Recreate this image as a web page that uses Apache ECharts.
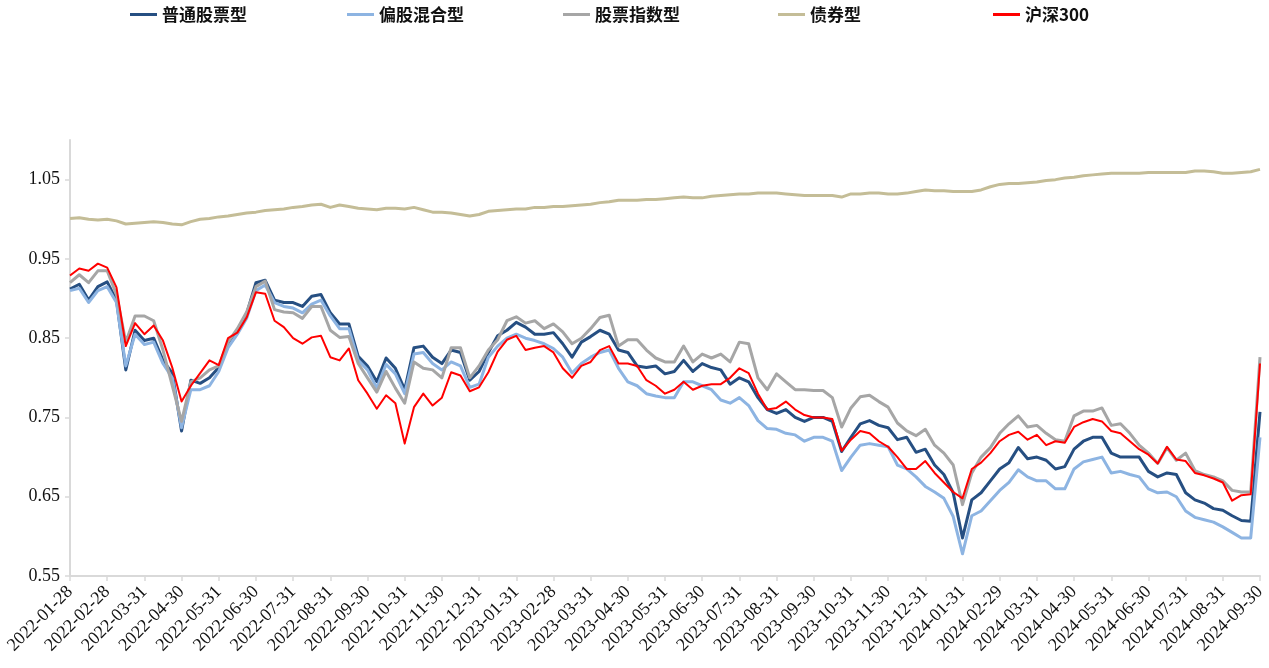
<!DOCTYPE html>
<html>
<head>
<meta charset="utf-8">
<script src="https://cdn.jsdelivr.net/npm/echarts@6/dist/echarts.min.js"></script>
<style>
  html, body { margin: 0; padding: 0; background: #fff; }
  #chart { width: 1269px; height: 668px; }
</style>
</head>
<body>
<div id="chart"></div>
<script>
// Month-end labels on the date axis
const monthEnds = ['2022-01-28','2022-02-28','2022-03-31','2022-04-30','2022-05-31','2022-06-30',
  '2022-07-31','2022-08-31','2022-09-30','2022-10-31','2022-11-30','2022-12-31',
  '2023-01-31','2023-02-28','2023-03-31','2023-04-30','2023-05-31','2023-06-30',
  '2023-07-31','2023-08-31','2023-09-30','2023-10-31','2023-11-30','2023-12-31',
  '2024-01-31','2024-02-29','2024-03-31','2024-04-30','2024-05-31','2024-06-30',
  '2024-07-31','2024-08-31','2024-09-30'];

// Net value indices, sampled four times per month (first value at 2022-01-28)
const stockFund = [
  0.912,0.918,0.898,0.915,0.921,0.898,0.810,0.860,0.847,0.850,0.822,0.806,0.733,0.797,0.793,0.800,
  0.813,0.843,0.860,0.881,0.920,0.923,0.898,0.895,0.895,0.890,0.903,0.905,0.882,0.868,0.868,0.827,
  0.815,0.795,0.825,0.812,0.785,0.838,0.840,0.826,0.818,0.835,0.832,0.797,0.808,0.832,0.853,0.860,
  0.870,0.864,0.855,0.855,0.857,0.843,0.826,0.845,0.852,0.860,0.855,0.835,0.832,0.815,0.813,0.815,
  0.805,0.808,0.822,0.808,0.818,0.813,0.810,0.792,0.800,0.795,0.775,0.760,0.755,0.760,0.750,0.745,
  0.750,0.750,0.745,0.707,0.725,0.742,0.746,0.740,0.737,0.722,0.725,0.706,0.710,0.690,0.678,0.655,
  0.598,0.646,0.655,0.670,0.685,0.693,0.712,0.698,0.700,0.696,0.685,0.688,0.710,0.720,0.725,0.725,
  0.705,0.700,0.700,0.700,0.682,0.675,0.680,0.678,0.655,0.646,0.642,0.635,0.633,0.626,0.620,0.619,
  0.757];
const mixedFund = [
  0.910,0.913,0.895,0.910,0.915,0.895,0.815,0.855,0.842,0.845,0.818,0.800,0.737,0.785,0.785,0.790,
  0.808,0.838,0.855,0.875,0.910,0.917,0.895,0.890,0.888,0.882,0.893,0.898,0.878,0.862,0.862,0.822,
  0.810,0.787,0.817,0.805,0.780,0.830,0.832,0.818,0.810,0.820,0.815,0.788,0.792,0.826,0.840,0.850,
  0.855,0.850,0.847,0.843,0.837,0.826,0.806,0.818,0.826,0.832,0.835,0.812,0.795,0.790,0.780,0.777,
  0.775,0.775,0.795,0.795,0.790,0.785,0.772,0.768,0.775,0.765,0.746,0.736,0.735,0.730,0.728,0.720,
  0.725,0.725,0.720,0.683,0.700,0.715,0.717,0.715,0.713,0.690,0.685,0.675,0.663,0.656,0.648,0.625,
  0.578,0.626,0.632,0.645,0.658,0.668,0.684,0.675,0.670,0.670,0.660,0.660,0.685,0.694,0.697,0.700,
  0.680,0.682,0.678,0.675,0.660,0.655,0.656,0.650,0.632,0.624,0.621,0.618,0.612,0.605,0.598,0.598,
  0.725];
const indexFund = [
  0.920,0.930,0.920,0.935,0.935,0.905,0.845,0.878,0.878,0.872,0.835,0.790,0.745,0.795,0.800,0.810,
  0.815,0.845,0.862,0.883,0.915,0.922,0.886,0.883,0.882,0.875,0.890,0.890,0.860,0.851,0.852,0.818,
  0.800,0.782,0.808,0.787,0.768,0.820,0.812,0.810,0.800,0.838,0.838,0.800,0.815,0.835,0.848,0.872,
  0.877,0.869,0.872,0.862,0.868,0.858,0.843,0.850,0.862,0.876,0.879,0.840,0.848,0.848,0.835,0.825,
  0.820,0.820,0.840,0.820,0.830,0.825,0.830,0.820,0.845,0.843,0.800,0.785,0.805,0.795,0.785,0.785,
  0.784,0.784,0.775,0.738,0.762,0.776,0.778,0.770,0.763,0.743,0.733,0.727,0.735,0.715,0.705,0.690,
  0.640,0.680,0.700,0.712,0.730,0.742,0.752,0.738,0.740,0.730,0.722,0.720,0.752,0.758,0.758,0.762,
  0.740,0.742,0.730,0.715,0.705,0.692,0.712,0.696,0.705,0.683,0.678,0.675,0.670,0.658,0.656,0.656,
  0.826];
const bondFund = [
  1.001,1.002,1.000,0.999,1.000,0.998,0.994,0.995,0.996,0.997,0.996,0.994,0.993,0.997,1.000,1.001,
  1.003,1.004,1.006,1.008,1.009,1.011,1.012,1.013,1.015,1.016,1.018,1.019,1.015,1.018,1.016,1.014,
  1.013,1.012,1.014,1.014,1.013,1.015,1.012,1.009,1.009,1.008,1.006,1.004,1.006,1.010,1.011,1.012,
  1.013,1.013,1.015,1.015,1.016,1.016,1.017,1.018,1.019,1.021,1.022,1.024,1.024,1.024,1.025,1.025,
  1.026,1.027,1.028,1.027,1.027,1.029,1.030,1.031,1.032,1.032,1.033,1.033,1.033,1.032,1.031,1.030,
  1.030,1.030,1.030,1.028,1.032,1.032,1.033,1.033,1.032,1.032,1.033,1.035,1.037,1.036,1.036,1.035,
  1.035,1.035,1.037,1.041,1.044,1.045,1.045,1.046,1.047,1.049,1.050,1.052,1.053,1.055,1.056,1.057,
  1.058,1.058,1.058,1.058,1.059,1.059,1.059,1.059,1.059,1.061,1.061,1.060,1.058,1.058,1.059,1.060,
  1.063];
const csi300 = [
  0.929,0.938,0.935,0.944,0.939,0.914,0.840,0.869,0.855,0.866,0.847,0.813,0.770,0.790,0.806,0.822,
  0.816,0.850,0.857,0.876,0.908,0.906,0.872,0.864,0.850,0.843,0.851,0.853,0.826,0.822,0.837,0.797,
  0.780,0.761,0.778,0.768,0.717,0.763,0.780,0.765,0.775,0.807,0.803,0.783,0.788,0.807,0.833,0.848,
  0.853,0.835,0.838,0.840,0.832,0.812,0.800,0.815,0.820,0.835,0.840,0.818,0.818,0.815,0.797,0.790,
  0.780,0.785,0.795,0.785,0.790,0.792,0.792,0.800,0.812,0.806,0.780,0.760,0.762,0.770,0.760,0.753,
  0.750,0.750,0.748,0.708,0.722,0.733,0.730,0.720,0.713,0.700,0.685,0.685,0.695,0.680,0.668,0.656,
  0.648,0.685,0.693,0.705,0.720,0.728,0.732,0.722,0.728,0.715,0.720,0.718,0.738,0.744,0.748,0.745,
  0.733,0.730,0.720,0.710,0.703,0.692,0.713,0.697,0.695,0.680,0.677,0.673,0.668,0.645,0.652,0.653,
  0.818];

const seriesDefs = [
  { name: '普通股票型', data: stockFund, color: '#264F82', width: 3 },
  { name: '偏股混合型', data: mixedFund, color: '#8DB4E2', width: 3 },
  { name: '股票指数型', data: indexFund, color: '#A6A6A6', width: 3 },
  { name: '债券型',     data: bondFund,  color: '#C4BD97', width: 3 },
  { name: '沪深300',    data: csi300,    color: '#FF0000', width: 2 }
];

// Hidden sampling axis: one slot per sample, aligned with the month-end axis
const sampleSlots = stockFund.map((_, i) => 's' + i);

const serif = '"Liberation Serif", "Times New Roman", serif';
const legendLeft = [130, 347, 563, 778, 993];

const chart = echarts.init(document.getElementById('chart'), null, { renderer: 'canvas' });
chart.setOption({
  animation: false,
  backgroundColor: '#ffffff',
  legend: seriesDefs.map((s, i) => ({
    data: [s.name],
    left: legendLeft[i],
    top: 6,
    padding: 0,
    icon: 'rect',
    itemWidth: 27,
    itemHeight: 3,
    itemGap: 0,
    textStyle: {
      fontFamily: '"Noto Sans CJK SC", serif',
      fontWeight: 'bold',
      fontSize: 17,
      color: '#111'
    }
  })),
  grid: {
    left: 70, right: 9, top: 140, bottom: 92,
    containLabel: false,
    outerBoundsMode: 'none'
  },
  xAxis: [
    {
      type: 'category',
      data: monthEnds,
      boundaryGap: false,
      axisLine: { lineStyle: { color: '#D9D9D9', width: 2 } },
      axisTick: { show: true, length: 5, interval: 0, lineStyle: { color: '#D9D9D9', width: 1.5 } },
      axisLabel: {
        interval: 0,
        rotate: 45,
        margin: 13,
        fontFamily: serif,
        fontSize: 18,
        color: '#111'
      },
      splitLine: { show: false }
    },
    {
      type: 'category',
      data: sampleSlots,
      boundaryGap: false,
      show: false
    }
  ],
  yAxis: {
    type: 'value',
    min: 0.55,
    max: 1.1,
    interval: 0.1,
    axisLine: { show: true, lineStyle: { color: '#D9D9D9', width: 2 } },
    axisTick: { show: true, length: 5, lineStyle: { color: '#D9D9D9', width: 1.5 } },
    axisLabel: {
      showMaxLabel: false,
      margin: 10,
      fontFamily: serif,
      fontSize: 18,
      color: '#111',
      formatter: v => v.toFixed(2)
    },
    splitLine: { show: false }
  },
  series: seriesDefs.map(s => ({
    name: s.name,
    type: 'line',
    xAxisIndex: 1,
    data: s.data,
    symbol: 'none',
    color: s.color,
    lineStyle: { color: s.color, width: s.width, join: 'round' },
    emphasis: { disabled: true }
  }))
});
</script>
</body>
</html>
